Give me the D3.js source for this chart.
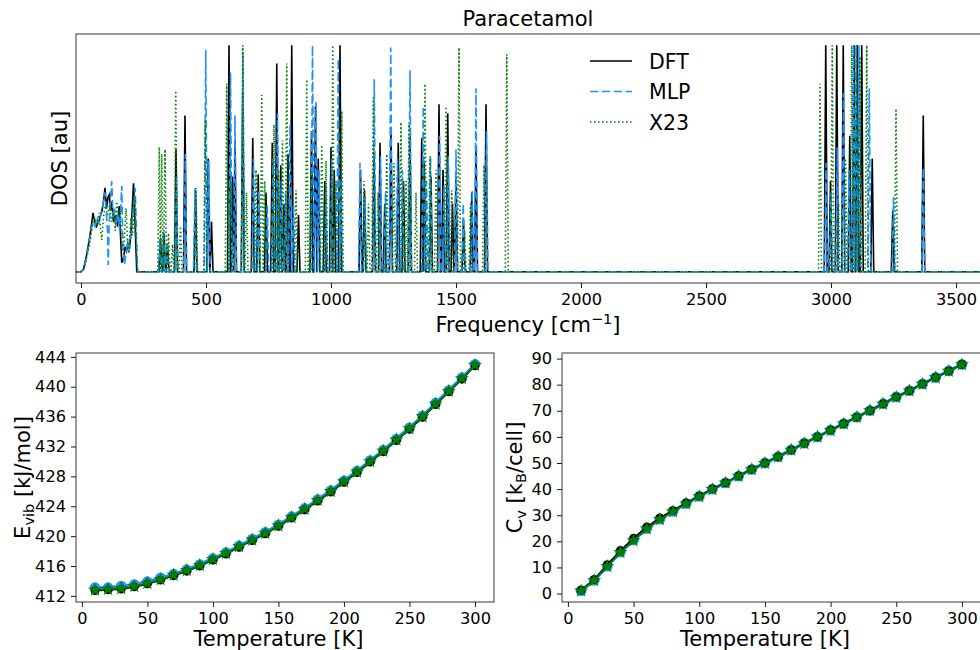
<!DOCTYPE html>
<html>
<head>
<meta charset="utf-8">
<script src="https://cdn.jsdelivr.net/npm/d3@7/dist/d3.min.js"></script>
<style>
  html, body { margin: 0; padding: 0; background: #fff; }
  svg { display: block; font-family: "DejaVu Sans", sans-serif; }
</style>
</head>
<body>
<svg id="chart" width="980" height="650"></svg>
<script>
// ---- Vibrational density of states (normalised) ----
// Continuous low-frequency (lattice) part: [frequency cm^-1, DOS]
const lowDFT = [[-20,0],[0,0],[10,0.01],[20,0.06],[30,0.12],[40,0.19],[48,0.26],[55,0.22],[62,0.20],[70,0.22],[76,0.24],[84,0.27],[90,0.31],[96,0.37],[102,0.28],[108,0.33],[113,0.34],[118,0.27],[123,0.31],[130,0.22],[138,0.25],[146,0.20],[153,0.29],[158,0.16],[163,0.04],[170,0.06],[176,0.11],[182,0.09],[188,0.12],[194,0.10],[200,0.17],[205,0.28],[210,0.39],[216,0.22],[223,0]];
const lowMLP = [[-20,0],[0,0],[10,0.01],[20,0.05],[30,0.11],[40,0.18],[48,0.22],[56,0.20],[64,0.24],[72,0.21],[80,0.26],[88,0.30],[96,0.35],[102,0.25],[106,0.18],[109,0.03],[113,0.22],[118,0.33],[123,0.40],[128,0.24],[134,0.28],[140,0.20],[148,0.26],[155,0.18],[163,0.38],[168,0.10],[174,0.03],[180,0.08],[186,0.14],[192,0.09],[198,0.16],[204,0.20],[211,0.30],[217,0.37],[222,0.15],[227,0]];
const lowX23 = [[-20,0],[0,0],[10,0.01],[20,0.05],[30,0.10],[40,0.16],[48,0.22],[56,0.24],[64,0.20],[72,0.26],[78,0.19],[83,0.14],[90,0.24],[98,0.30],[106,0.25],[114,0.29],[122,0.22],[130,0.27],[137,0.18],[143,0.31],[150,0.24],[157,0.27],[164,0.12],[170,0.09],[175,0.18],[180,0.28],[186,0.14],[192,0.08],[196,0.18],[200,0.24],[205,0.16],[210,0.22],[216,0.33],[221,0.12],[226,0]];

// Intramolecular modes: [centre frequency cm^-1, peak height]
const peaksDFT = [[318,0.15],[332,0.17],[346,0.12],[380,0.54],[416,0.69],[458,0.36],[509,0.50],[522,0.22],[592,1.00],[606,0.42],[616,0.58],[647,0.80],[687,0.59],[709,0.43],[740,0.35],[765,0.57],[783,0.92],[799,0.47],[812,0.30],[828,0.52],[843,1.00],[870,0.25],[922,0.62],[938,0.73],[949,0.50],[975,0.40],[1000,0.55],[1013,0.45],[1036,1.00],[1118,0.45],[1134,0.36],[1172,0.53],[1196,0.57],[1215,0.30],[1240,0.62],[1269,0.57],[1290,0.40],[1316,0.60],[1363,0.59],[1373,0.48],[1400,0.42],[1432,0.74],[1448,0.45],[1467,0.70],[1486,0.30],[1500,0.42],[1530,0.23],[1563,0.35],[1580,0.55],[1620,0.74],[2979,1.00],[2998,0.40],[3023,1.00],[3049,1.00],[3075,0.60],[3092,1.00],[3105,1.00],[3123,1.00],[3165,0.50],[3247,0.27],[3369,0.69]];
const peaksMLP = [[316,0.14],[330,0.18],[344,0.13],[382,0.42],[417,0.52],[456,0.37],[499,0.98],[511,0.49],[598,0.88],[616,0.69],[648,0.97],[690,0.50],[711,0.36],[745,0.30],[768,0.50],[786,0.70],[801,0.40],[818,0.35],[836,0.65],[850,0.30],[926,1.00],[940,0.75],[952,0.45],[980,0.38],[1003,0.50],[1029,0.94],[1040,0.40],[1116,0.48],[1136,0.33],[1173,0.85],[1198,0.51],[1218,0.35],[1239,0.99],[1266,0.50],[1286,0.45],[1316,0.89],[1369,0.73],[1382,0.40],[1398,0.51],[1434,0.60],[1452,0.38],[1469,0.51],[1500,0.54],[1529,0.30],[1565,0.36],[1580,0.81],[1622,0.62],[2980,0.48],[3000,0.35],[3025,0.55],[3050,0.79],[3072,0.45],[3090,1.00],[3100,1.00],[3112,1.00],[3153,0.81],[3250,0.33],[3369,0.46]];
const peaksX23 = [[313,0.55],[323,0.52],[336,0.54],[350,0.17],[366,0.12],[379,0.80],[398,0.20],[460,0.37],[497,0.67],[583,0.83],[600,0.40],[647,1.00],[662,0.35],[700,0.45],[723,0.78],[735,0.40],[772,0.65],[790,0.45],[806,0.58],[823,0.92],[860,0.36],[903,0.85],[920,0.45],[963,0.56],[980,0.49],[1007,1.00],[1020,0.40],[1043,0.71],[1132,0.40],[1150,0.30],[1169,0.77],[1188,0.35],[1223,0.52],[1252,0.48],[1280,0.66],[1300,0.40],[1312,0.66],[1340,0.35],[1376,0.83],[1396,0.51],[1420,0.45],[1460,0.73],[1483,0.36],[1512,0.99],[1535,0.18],[1558,0.30],[1612,0.47],[1703,0.96],[2956,0.83],[3005,1.00],[3030,0.30],[3058,0.50],[3083,1.00],[3103,1.00],[3116,0.95],[3143,1.00],[3260,0.72]];

// ---- Thermodynamics vs temperature ----
const temps = [10,20,30,40,50,60,70,80,90,100,110,120,130,140,150,160,170,180,190,200,210,220,230,240,250,260,270,280,290,300];
const evibDFT = [412.7,412.8,412.9,413.2,413.6,414.1,414.7,415.3,416.0,416.8,417.6,418.5,419.4,420.3,421.3,422.4,423.5,424.7,425.9,427.2,428.5,429.9,431.3,432.8,434.3,435.9,437.6,439.3,441.0,442.8];
const evibMLP = [413.1,413.1,413.3,413.5,413.9,414.4,414.9,415.5,416.2,417.0,417.8,418.7,419.6,420.5,421.5,422.6,423.7,424.9,426.1,427.4,428.7,430.1,431.5,433.0,434.5,436.1,437.8,439.5,441.2,443.0];
const evibX23 = [412.8,412.9,413.0,413.3,413.7,414.2,414.8,415.4,416.1,416.9,417.7,418.6,419.5,420.4,421.4,422.5,423.6,424.8,426.0,427.3,428.6,430.0,431.4,432.9,434.4,436.0,437.7,439.4,441.1,442.9];
const cvDFT = [1.3,5.3,11.1,16.5,21.2,25.5,29.0,31.8,34.7,37.4,40.1,42.5,45.1,47.6,50.0,52.4,55.0,57.6,60.0,62.6,65.1,67.6,70.1,72.7,75.3,77.7,80.3,82.8,85.3,87.8];
const cvMLP = [1.1,5.1,10.5,15.9,20.5,24.9,28.5,31.5,34.5,37.2,40.0,42.4,45.0,47.6,50.0,52.4,55.0,57.6,60.0,62.6,65.1,67.6,70.1,72.7,75.3,77.7,80.3,82.8,85.3,87.8];
const cvX23 = [1.1,5.0,10.4,15.8,20.3,24.8,28.4,31.4,34.4,37.2,39.9,42.4,45.0,47.5,49.9,52.4,55.0,57.5,60.0,62.5,65.0,67.6,70.1,72.6,75.2,77.7,80.2,82.7,85.2,87.7];

const freqTicks = [0,500,1000,1500,2000,2500,3000,3500];
const tempTicks = [0,50,100,150,200,250,300];
const evibTicks = [412,416,420,424,428,432,436,440,444];
const cvTicks = [0,10,20,30,40,50,60,70,80,90];

// ---- styling ----
const C = { DFT: "#000000", MLP: "#1E90FF", X23: "#008000" };
const TICK_FONT = 16.2, LABEL_FONT = 21, SUB_FONT = 14.5;
const svg = d3.select("#chart");
svg.append("rect").attr("width",980).attr("height",650).attr("fill","#fff");

function styleAxis(g) {
  g.select(".domain").remove();
  g.selectAll(".tick line").attr("stroke","#000").attr("stroke-width",0.9);
  g.selectAll(".tick text").attr("font-size",TICK_FONT).attr("fill","#000")
    .attr("font-family","DejaVu Sans, sans-serif");
}
function frame(x0,y0,x1,y1) {
  svg.append("rect").attr("x",x0).attr("y",y0).attr("width",x1-x0).attr("height",y1-y0)
    .attr("fill","none").attr("stroke","#222").attr("stroke-width",0.9);
}
function padDomain(arrs) {
  const lo = d3.min(arrs, a => d3.min(a)), hi = d3.max(arrs, a => d3.max(a));
  const p = (hi - lo) * 0.05;
  return [lo - p, hi + p];
}

// ================= DOS panel =================
const dosBox = { l: 76, r: 981, t: 34, b: 283 };
const xF = d3.scaleLinear().domain([-20, 3600]).range([dosBox.l, dosBox.r]);
const yD = d3.scaleLinear().domain([-0.05, 1.05]).range([dosBox.b, dosBox.t]);

svg.append("clipPath").attr("id","clipTop").append("rect")
  .attr("x",dosBox.l).attr("y",dosBox.t).attr("width",dosBox.r-dosBox.l).attr("height",dosBox.b-dosBox.t);

// each mode drawn as a narrow spike on the zero baseline
const HALF = 6;
function spectrum(low, peaks) {
  const pts = low.slice();
  const ps = peaks.slice().sort((a,b) => a[0]-b[0]);
  ps.forEach((p, i) => {
    const prev = i > 0 ? ps[i-1][0] : -1e9, next = i < ps.length-1 ? ps[i+1][0] : 1e9;
    const left = Math.max(p[0]-HALF, (p[0]+prev)/2), right = Math.min(p[0]+HALF, (p[0]+next)/2);
    pts.push([left,0],[p[0],p[1]],[right,0]);
  });
  pts.push([3600,0]);
  return pts;
}
const dosLine = d3.line().x(d => xF(d[0])).y(d => yD(d[1]));
const dosG = svg.append("g").attr("clip-path","url(#clipTop)");
const dosSeries = [
  { name:"DFT", pts: spectrum(lowDFT, peaksDFT), dash: null },
  { name:"MLP", pts: spectrum(lowMLP, peaksMLP), dash: "8.3,3.6" },
  { name:"X23", pts: spectrum(lowX23, peaksX23), dash: "1.5,2.5" }
];
dosSeries.forEach(s => {
  dosG.append("path").attr("d", dosLine(s.pts)).attr("fill","none")
    .attr("stroke", C[s.name]).attr("stroke-width",1.6)
    .attr("stroke-dasharray", s.dash).attr("stroke-linejoin","miter");
});

const axF = svg.append("g").attr("transform",`translate(0,${dosBox.b})`)
  .call(d3.axisBottom(xF).tickValues(freqTicks).tickFormat(d3.format("d")).tickSize(5).tickPadding(5));
styleAxis(axF);
frame(dosBox.l, dosBox.t, dosBox.r, dosBox.b);

svg.append("text").attr("x",528).attr("y",26).attr("text-anchor","middle")
  .attr("font-size",LABEL_FONT).text("Paracetamol");
const fl = svg.append("text").attr("x",528).attr("y",332).attr("text-anchor","middle")
  .attr("font-size",LABEL_FONT);
fl.append("tspan").text("Frequency [cm");
fl.append("tspan").attr("dy",-8).attr("font-size",SUB_FONT).text("\u22121");
fl.append("tspan").attr("dy",8).text("]");
svg.append("text").attr("transform",`translate(67,${(dosBox.t+dosBox.b)/2}) rotate(-90)`)
  .attr("text-anchor","middle").attr("font-size",LABEL_FONT).text("DOS [au]");

// legend
const leg = svg.append("g");
dosSeries.forEach((s, i) => {
  const y = 61 + i * 30.5;
  leg.append("line").attr("x1",590).attr("x2",632).attr("y1",y).attr("y2",y)
    .attr("stroke",C[s.name]).attr("stroke-width",1.6).attr("stroke-dasharray",s.dash);
  leg.append("text").attr("x",649).attr("y",y+7.5).attr("font-size",20.5).text(s.name);
});

// ================= temperature panels =================
function tempPanel(box, series, yTicks, labelBuilder, labelX) {
  const x = d3.scaleLinear().domain(padDomain([temps])).range([box.l, box.r]);
  const y = d3.scaleLinear().domain(padDomain(series)).range([box.b, box.t]);
  const line = d3.line().x((d,i) => x(temps[i])).y(d => y(d));
  const g = svg.append("g");
  const [dft, mlp, x23] = series;
  // MLP underneath, DFT, then X23 on top
  g.append("path").attr("d",line(mlp)).attr("fill","none").attr("stroke",C.MLP).attr("stroke-width",3.2);
  g.selectAll(".m-mlp").data(mlp).join("circle").attr("cx",(d,i)=>x(temps[i])).attr("cy",d=>y(d))
    .attr("r",5.4).attr("fill",C.MLP);
  g.append("path").attr("d",line(dft)).attr("fill","none").attr("stroke",C.DFT).attr("stroke-width",1.6);
  g.selectAll(".m-dft").data(dft).join("circle").attr("cx",(d,i)=>x(temps[i])).attr("cy",d=>y(d))
    .attr("r",4.4).attr("fill",C.DFT);
  g.append("path").attr("d",line(x23)).attr("fill","none").attr("stroke",C.X23).attr("stroke-width",1.6);
  g.selectAll(".m-x23").data(x23).join("path")
    .attr("transform",(d,i)=>`translate(${x(temps[i])},${y(d)})`)
    .attr("d", d3.symbol().type(d3.symbolStar).size(62)).attr("fill",C.X23);

  const ax = svg.append("g").attr("transform",`translate(0,${box.b})`)
    .call(d3.axisBottom(x).tickValues(tempTicks).tickFormat(d3.format("d")).tickSize(5).tickPadding(5));
  styleAxis(ax);
  const ay = svg.append("g").attr("transform",`translate(${box.l},0)`)
    .call(d3.axisLeft(y).tickValues(yTicks).tickFormat(d3.format("d")).tickSize(5).tickPadding(5));
  styleAxis(ay);
  frame(box.l, box.t, box.r, box.b);

  svg.append("text").attr("x",x(150)).attr("y",645.5)
    .attr("text-anchor","middle").attr("font-size",LABEL_FONT).text("Temperature [K]");
  const yl = svg.append("text").attr("transform",`translate(${labelX},${(box.t+box.b)/2}) rotate(-90)`)
    .attr("text-anchor","middle").attr("font-size",LABEL_FONT);
  labelBuilder(yl);
}

tempPanel({ l:76, r:494, t:353, b:602 }, [evibDFT, evibMLP, evibX23], evibTicks, t => {
  t.append("tspan").text("E");
  t.append("tspan").attr("dy",4).attr("font-size",SUB_FONT).text("vib");
  t.append("tspan").attr("dy",-4).text(" [kJ/mol]");
}, 30);

tempPanel({ l:562, r:981, t:353, b:602 }, [cvDFT, cvMLP, cvX23], cvTicks, t => {
  t.append("tspan").text("C");
  t.append("tspan").attr("dy",4).attr("font-size",SUB_FONT).text("v");
  t.append("tspan").attr("dy",-4).text(" [k");
  t.append("tspan").attr("dy",4).attr("font-size",SUB_FONT).text("B");
  t.append("tspan").attr("dy",-4).text("/cell]");
}, 522);
</script>
</body>
</html>
